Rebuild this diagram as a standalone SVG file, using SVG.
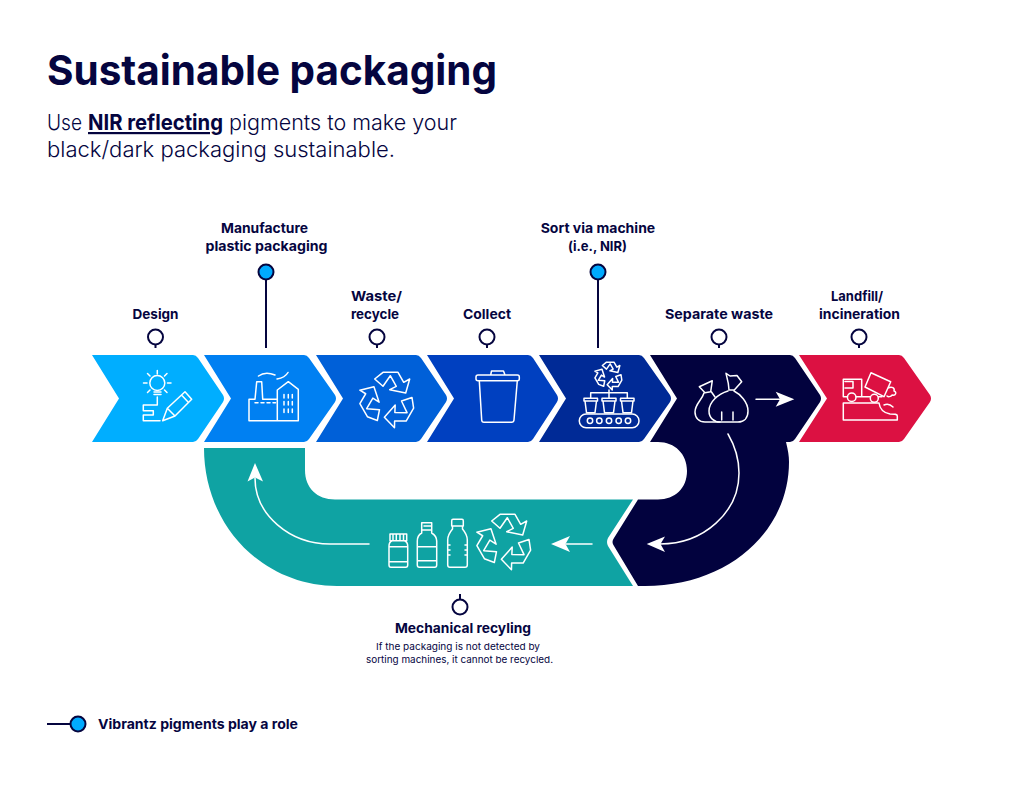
<svg xmlns="http://www.w3.org/2000/svg" xmlns:xlink="http://www.w3.org/1999/xlink" width="1024" height="791" viewBox="0 0 1024 791">
<style>
text{font-family:Inter,"Noto Sans","Liberation Sans",sans-serif;fill:#05053f}
.b{font-weight:700;font-size:13.5px}
.s{font-weight:400;font-size:9.5px}
.sub{font-weight:300;font-size:22px}
.i{fill:none;stroke:#fff;stroke-width:1.5;stroke-linejoin:round;stroke-linecap:round;vector-effect:non-scaling-stroke}
.w{fill:#fff;stroke:none}
.st{fill:none;stroke:#05053f;stroke-width:2}
.pin{fill:#fff;stroke:#05053f;stroke-width:2}
.pb{fill:#00aaff;stroke:#05053f;stroke-width:2}
</style>
<defs>
<g id="rec">
<path id="ra" class="i" d="M-13.3,-20L-5,-26.7L10,-26.7L15.7,-16.7L21.7,-20L17.7,-6L1.7,-9.3L8.3,-12.7L2.3,-23.3L-5,-12.7Z"/>
<use xlink:href="#ra" transform="rotate(120)"/>
<use xlink:href="#ra" transform="rotate(240)"/>
</g>
</defs>
<rect width="1024" height="791" fill="#fff"/>

<text x="47" y="85" font-size="41" font-weight="700" textLength="450" lengthAdjust="spacingAndGlyphs">Sustainable packaging</text>
<text class="sub" x="47" y="130" textLength="35" lengthAdjust="spacingAndGlyphs">Use</text>
<text class="sub" x="88" y="130" style="font-weight:700;text-decoration:underline" textLength="135" lengthAdjust="spacingAndGlyphs">NIR reflecting</text>
<text class="sub" x="229" y="130" textLength="228" lengthAdjust="spacingAndGlyphs">pigments to make your</text>
<text class="sub" x="47" y="157" textLength="348" lengthAdjust="spacingAndGlyphs">black/dark packaging sustainable.</text>

<g id="node-recycling-loop">
<path fill="#0fa3a3" d="M204,448H305V470C305,488 317,499.5 335,499.5H633L608,538Q606,542 608,546L633,586H337C262,586 204,525 204,448Z"/>
</g>
<g id="node-design">
<path fill="#00aeff" d="M92,355H193Q196,355 198,358L223,395Q225,398.5 223,402L198,439Q196,442 193,442H92L119,398.5Z"/>
<circle class="i" cx="157.3" cy="383" r="7.5"/>
<path class="i" d="M154,392H161M154,394.5H161M157.3,374V370.5M147,383H143.5M171,383H167.5M150,376L147.5,373.5M164.5,376L167,373.5M150,390L147.5,392.5M164.5,390L167,392.5M157.3,397V405H143.3V410.7H153.3V415H143.3V420.7H160"/>
<path class="i" d="M162.7,420.7L167.3,408.3L185,391.7L191.7,399.3L175,416ZM167.3,408.3L175,416M181.5,395L188.5,402.5"/>
</g>
<g id="node-manufacture">
<path fill="#0080f2" d="M204,355H304Q307,355 309,358L335,395Q337,398.5 335,402L309,439Q307,442 304,442H204L231,398.5Z"/>
<path class="i" d="M249,399.3H255L256.7,381.7H261.7L262.7,399.3H277.3V390L288.3,381.7L298.3,389.3V420.7H249ZM277.3,399.3V420.7M258.5,376C264,372 270,373 275,375M277,379C283,378 286,376 288,372.5"/>
<path class="i" d="M255,402.7H258M261,402.7H264M267,402.7H270M273,402.7H275.5M284,394.5V398M288.3,394.5V398M292.3,394.5V398M284,401.5V405M288.3,401.5V405M292.3,401.5V405M284,409V412.500M288.3,409V412.500M292.3,409V412.500"/>
</g>
<g id="node-waste">
<path fill="#0060d8" d="M316,355H416Q419,355 421,358L446,395Q448,398.5 446,402L421,439Q419,442 416,442H316L343,398.5Z"/>
<use xlink:href="#rec" transform="translate(388,399)"/>
</g>
<g id="node-collect">
<path fill="#0040c0" d="M427,355H528Q531,355 533,358L557,395Q559,398.5 557,402L533,439Q531,442 528,442H427L454,398.5Z"/>
<path class="i" d="M478,375H517.5Q519.3,375 519.3,377V379Q519.3,380.7 517.5,380.7H478Q476,380.7 476,379V377Q476,375 478,375ZM490.7,375L491.5,371H503.5L505,375M479.3,380.7L481.7,420Q481.8,422.3 484,422.3H511.5Q513.8,422.3 514,420L517.3,380.7"/>
</g>
<g id="node-sort">
<path fill="#002a96" d="M539,355H639Q642,355 644,358L670,395Q672,398.5 670,402L644,439Q642,442 639,442H539L566,398.5Z"/>
<use xlink:href="#rec" transform="translate(609,375.5) scale(.5)"/>
<path class="i" d="M609,390V398M590.7,398V392.7H627.3V398"/>
<path class="i" d="M584,398.3H597.5V401H584ZM585,401L586.5,412.7H595L596.5,401M602,398.3H616V401H602ZM603,401L604.5,412.7H613.5L615,401M620.5,398.3H634V401H620.5ZM621.5,401L623,412.7H631.5L633,401"/>
<rect class="i" x="579.3" y="414" width="59.7" height="13.7" rx="6.8"/>
<g class="i"><circle cx="590" cy="420.7" r="2.7"/><circle cx="599.3" cy="420.7" r="2.7"/><circle cx="609" cy="420.7" r="2.7"/><circle cx="618.7" cy="420.7" r="2.7"/><circle cx="628" cy="420.7" r="2.7"/></g>
</g>
<g id="node-separate">
<path fill="#02023e" d="M650,355H790Q793,355 795,358L820,395Q822,398.5 820,402L795,439Q793,442 790,442H786C788,450 789,456 789,462C789,530 730,586 645,586H638L614,546Q611,542 614,538L638,499.5H658C675,499.5 687,488 687,471C687,454 675,442 658,442H650L677,398.5Z"/>
<path class="i" d="M728,391C718,394 709,402 709,411C709,418 714,422 720,422H738C744,422 748,418 748,411C748,402 740,394 734,391M726,373.3L730,376L737,375.5L741.7,381.7L734.3,390H729L728.3,383.300ZM721.7,412V420M733,412V420"/>
<path class="i" d="M704,393C702,400 695,404 695,412C695,418 699,422 705,422H720M711.5,392L715,397M699.3,386.7L712.3,380.7L710.7,391.7L705,392.7Z"/>
</g>
<g id="node-landfill">
<path fill="#dc1142" d="M799,355H899Q902,355 904,358L930,395Q932,398.5 930,402L904,439Q902,442 899,442H799L827,398.5Z"/>
<path class="i" d="M847.5,396.7H843.3V379.3H861.7V396.7M856,396.7H870M878.5,396.7H882M845,381.5H853V388H845M843.3,403H879C880,410 884,413 890,414C895,414 897.3,414 897.3,416V420H843.3Z"/>
<circle class="i" cx="851.7" cy="397.3" r="4.3"/><circle class="i" cx="874.3" cy="398.3" r="4"/>
<path class="i" d="M871,372.7L890.7,381.7L884,396.7L865,387ZM888,388C892,386 895,388 894,391C897,392 896,396 892,395C891,397 888,397 887,396M884,405C888,403 891,405 893,407"/>
</g>
<g id="node-mechanical">
<use xlink:href="#rec" transform="translate(505,541)"/>
<path class="i" d="M390,534H406.7V540.7H390ZM393,534V540.7M396.3,534V540.7M400,534V540.7M403.5,534V540.7M392,540.7Q389,542 389,546V565Q389,567.3 391,567.3H405.7Q407.7,567.3 407.7,565V546Q407.7,542 404.5,540.7M389,546.7H407.7M389,561.7H407.7"/>
<path class="i" d="M421.7,522.7H431.7V530H421.7ZM421.7,530V533C418,535 417.3,538 417.3,541V565Q417.3,567.3 419.3,567.3H434.7Q436.7,567.3 436.7,565V541C436.7,538 435,535 431.7,533V530M417.3,546.7H436.7M417.3,560.7H436.7M424,526H431.7"/>
<path class="i" d="M453,519.3H462Q463.3,519.3 463.3,521V526H451.7V521Q451.7,519.3 453,519.3ZM452.5,526V529C450,532 447.7,535 447.7,540V565Q447.7,567.3 450,567.3H465Q467.3,567.3 467.3,565V540C467.3,535 465,532 462.5,529V526M447.7,545H450M447.7,550H450M447.7,555H450M467.3,545H465M467.3,550H465M467.3,555H465"/>
</g>
<g id="connectors">
<path class="st" d="M155.5,344.5V348M266,279.5V348M377,344.5V348M487,344.5V348M598,279.5V348M719,344.5V348M859,344.5V348M460,594V600"/>
<path d="M756,399.3H781" class="i"/><path class="w" d="M794.3,399.3L775.7,391.7L780,399.3L775.7,406.7Z"/>
<path class="i" d="M728,434C735,446 739,459 739,473C739,512 704,544 660,544"/><path class="w" d="M646.7,544L665,536.5L660.5,544L665,552Z"/>
<path class="i" d="M592,544H566"/><path class="w" d="M551,544L570,536L565.5,544L570,552Z"/>
<path class="i" d="M369,544H330C290,544 255,515 255,478"/><path class="w" d="M255,463L247.5,481.5L255,477.5L263,481.5Z"/>
<path class="st" d="M47,724H70"/>
</g>
<g id="pin-design"><circle class="pin" cx="155.5" cy="337" r="7.5"/><text class="b" x="132.5" y="318.5" textLength="46" lengthAdjust="spacingAndGlyphs">Design</text></g>
<g id="pin-manufacture"><circle class="pb" cx="266" cy="272" r="7.5"/><text class="b" x="221" y="233" textLength="87" lengthAdjust="spacingAndGlyphs">Manufacture</text><text class="b" x="205.5" y="251" textLength="122" lengthAdjust="spacingAndGlyphs">plastic packaging</text></g>
<g id="pin-waste"><circle class="pin" cx="377" cy="337" r="7.5"/><text class="b" x="351" y="301" textLength="51" lengthAdjust="spacingAndGlyphs">Waste/</text><text class="b" x="351" y="318.5" textLength="48" lengthAdjust="spacingAndGlyphs">recycle</text></g>
<g id="pin-collect"><circle class="pin" cx="487" cy="337" r="7.5"/><text class="b" x="463" y="318.5" textLength="48" lengthAdjust="spacingAndGlyphs">Collect</text></g>
<g id="pin-sort"><circle class="pb" cx="598" cy="272" r="7.5"/><text class="b" x="540.7" y="233" textLength="114.5" lengthAdjust="spacingAndGlyphs">Sort via machine</text><text class="b" x="568" y="251" textLength="59" lengthAdjust="spacingAndGlyphs">(i.e., NIR)</text></g>
<g id="pin-separate"><circle class="pin" cx="719" cy="337" r="7.5"/><text class="b" x="665" y="318.5" textLength="108" lengthAdjust="spacingAndGlyphs">Separate waste</text></g>
<g id="pin-landfill"><circle class="pin" cx="859" cy="337" r="7.5"/><text class="b" x="831" y="301" textLength="52" lengthAdjust="spacingAndGlyphs">Landfill/</text><text class="b" x="819" y="318.5" textLength="81" lengthAdjust="spacingAndGlyphs">incineration</text></g>
<g id="pin-mechanical"><circle class="pin" cx="460" cy="607" r="7.5"/><text class="b" x="395" y="633" textLength="136" lengthAdjust="spacingAndGlyphs">Mechanical recyling</text><text class="s" x="376" y="650" textLength="164" lengthAdjust="spacingAndGlyphs">If the packaging is not detected by</text><text class="s" x="366" y="663" textLength="187" lengthAdjust="spacingAndGlyphs">sorting machines, it cannot be recycled.</text></g>
<g id="legend"><circle class="pb" cx="78" cy="724" r="7.5"/><text class="b" x="98" y="729" textLength="200" lengthAdjust="spacingAndGlyphs">Vibrantz pigments play a role</text></g>
</svg>
